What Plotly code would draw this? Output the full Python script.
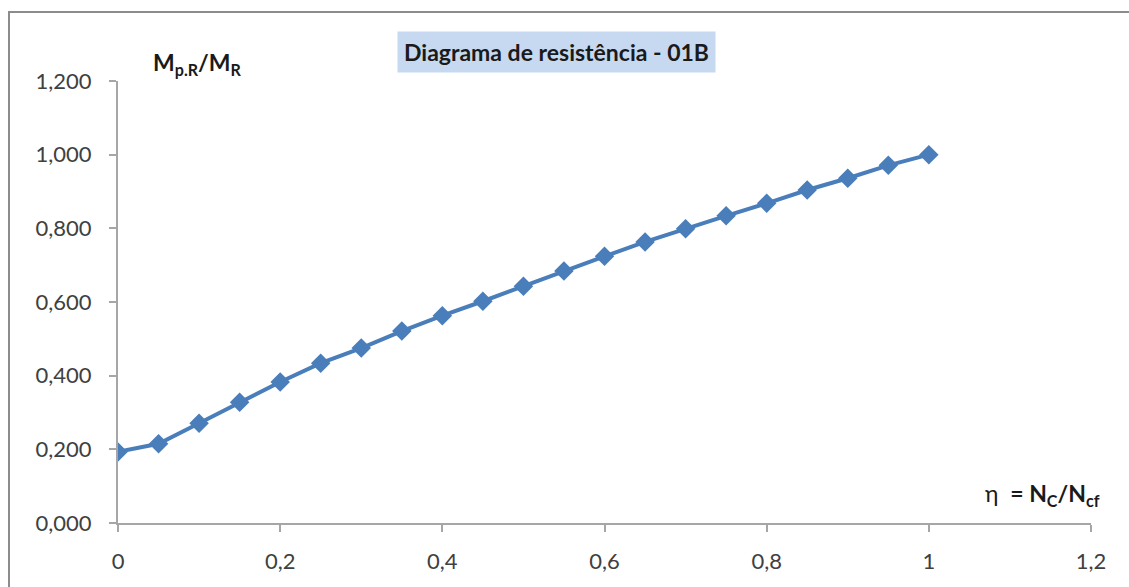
import plotly.graph_objects as go

# Resistance diagram 01B: relative moment capacity vs. degree of connection
eta = [0.0, 0.05, 0.10, 0.15, 0.20, 0.25, 0.30, 0.35, 0.40, 0.45, 0.50,
       0.55, 0.60, 0.65, 0.70, 0.75, 0.80, 0.85, 0.90, 0.95, 1.00]
mpr_mr = [0.193, 0.215, 0.271, 0.328, 0.383, 0.434, 0.475, 0.521, 0.563, 0.602, 0.643,
          0.684, 0.724, 0.763, 0.799, 0.834, 0.868, 0.904, 0.936, 0.971, 1.000]

x_ticks = [0, 0.2, 0.4, 0.6, 0.8, 1.0, 1.2]
y_ticks = [0, 0.2, 0.4, 0.6, 0.8, 1.0, 1.2]

title_text = "Diagrama de resistência - 01B"
y_label = "<b>M<sub>p.R</sub>/M<sub>R</sub></b>"
x_label = "η  <b>= N<sub>C</sub>/N<sub>cf</sub></b>"

blue = "#4a7ebb"
axis_grey = "#a6a6a6"
font_family = "Lato, 'Open Sans', sans-serif"

fig = go.Figure()
fig.add_trace(go.Scatter(
    x=eta, y=mpr_mr, mode="lines+markers",
    line=dict(color=blue, width=4),
    marker=dict(symbol="diamond", size=15, color=blue),
    showlegend=False, hoverinfo="x+y",
))

W, H = 1129, 587
L, R, T, B = 118, 38, 81, 64
pw, ph = W - L - R, H - T - B


def px(x):
    return (x - L) / pw


def py(y):
    return (H - B - y) / ph


fig.update_layout(
    width=W, height=H,
    margin=dict(l=L, r=R, t=T, b=B),
    paper_bgcolor="white", plot_bgcolor="white",
    separators=",.",
    font=dict(family=font_family, color="#404040", size=20),
    xaxis=dict(
        range=[0, 1.2], tickvals=x_ticks, showgrid=False, zeroline=False,
        showline=True, linecolor=axis_grey, linewidth=2,
        ticks="outside", ticklen=7, tickcolor=axis_grey, tickwidth=2,
        tickfont=dict(size=22, color="#404040"), ticklabelstandoff=11,
    ),
    yaxis=dict(
        range=[0, 1.2], tickvals=y_ticks, tickformat=".3f", showgrid=False, zeroline=False,
        showline=True, linecolor=axis_grey, linewidth=2,
        ticks="outside", ticklen=7, tickcolor=axis_grey, tickwidth=2,
        tickfont=dict(size=22, color="#404040"), ticklabelstandoff=13,
    ),
    shapes=[
        # outer chart frame (left and top edges)
        dict(type="path", xref="paper", yref="paper",
             path=f"M {px(9)} {py(600)} L {px(9)} {py(12)} L {px(1135)} {py(12)}",
             line=dict(color="#8c8c8c", width=2)),
    ],
    annotations=[
        dict(text=title_text, xref="paper", yref="paper",
             x=px(556), y=py(52), xanchor="center", yanchor="middle",
             showarrow=False, bgcolor="#c6d9f1", borderpad=6,
             font=dict(size=23, color="#1a1a1a", family=font_family, weight="bold")),
        dict(text=y_label, xref="paper", yref="paper",
             x=px(151), y=py(64), xanchor="left", yanchor="middle",
             showarrow=False, font=dict(size=23, color="#1a1a1a")),
        dict(text=x_label, xref="paper", yref="paper",
             x=px(1102), y=py(494), xanchor="right", yanchor="middle",
             showarrow=False, font=dict(size=23, color="#1a1a1a")),
    ],
)

fig.write_html("out.html")
